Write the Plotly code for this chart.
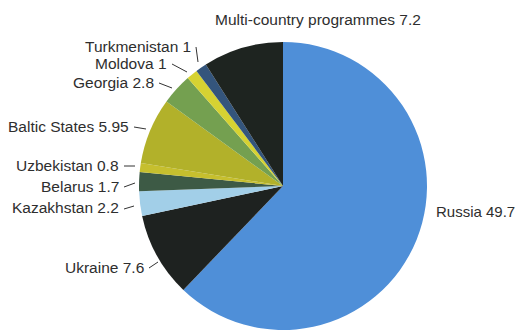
import plotly.graph_objects as go

categories = ["Russia", "Ukraine", "Kazakhstan", "Belarus", "Uzbekistan",
              "Baltic States", "Georgia", "Moldova", "Turkmenistan",
              "Multi-country programmes"]
values = [49.7, 7.6, 2.2, 1.7, 0.8, 5.95, 2.8, 1, 1, 7.2]
value_labels = ["49.7", "7.6", "2.2", "1.7", "0.8", "5.95", "2.8", "1", "1", "7.2"]
colors = ["#4f8fd8", "#1e2220", "#a2cfe8", "#3d5a45", "#c6bf2e",
          "#b2b12a", "#74a050", "#d6d232", "#34557c", "#1e2420"]

W, H = 519, 330


def px(x):
    return x / W


def py(y):
    return 1 - y / H


fig = go.Figure(go.Pie(
    labels=categories,
    values=values,
    sort=False,
    direction="clockwise",
    rotation=0,
    marker=dict(colors=colors, line=dict(width=0)),
    textinfo="none",
    hoverinfo="label+value",
    domain=dict(x=[px(138), px(428)], y=[0.0, py(42)]),
    showlegend=False,
))

# label placement (pixel coords): text anchor point, leader tip
label_pos = {
    "Russia": dict(tx=434, ty=211, xanchor="left", tip=None, size=15),
    "Ukraine": dict(tx=146, ty=267, xanchor="right", tip=(158, 262)),
    "Kazakhstan": dict(tx=121, ty=208, xanchor="right", tip=(134, 206)),
    "Belarus": dict(tx=121, ty=186, xanchor="right", tip=(135, 183)),
    "Uzbekistan": dict(tx=121, ty=165, xanchor="right", tip=(135, 166)),
    "Baltic States": dict(tx=131, ty=126, xanchor="right", tip=(146, 129)),
    "Georgia": dict(tx=156, ty=82, xanchor="right", tip=(172, 88)),
    "Moldova": dict(tx=169, ty=63, xanchor="right", tip=(187, 72)),
    "Turkmenistan": dict(tx=193, ty=46, xanchor="right", tip=(198, 62)),
    "Multi-country programmes": dict(tx=318, ty=20, xanchor="center", tip=None),
}

for cat, val in zip(categories, value_labels):
    p = label_pos[cat]
    text = f"{cat} {val}"
    font = dict(family="Liberation Sans, Arial, sans-serif",
                size=p.get("size", 15.5), color="#2e2e2e")
    fig.add_annotation(
        x=px(p["tx"]), y=py(p["ty"]), xref="paper", yref="paper",
        text=text, showarrow=False, xanchor=p["xanchor"], yanchor="middle",
        font=font,
    )
    if p["tip"] is not None:
        sx = p["tx"] + 3
        sy = p["ty"] + 1
        fig.add_shape(type="line", xref="paper", yref="paper",
                      x0=px(sx), y0=py(sy),
                      x1=px(p["tip"][0]), y1=py(p["tip"][1]),
                      line=dict(color="#333333", width=1))

fig.update_layout(
    width=W, height=H,
    margin=dict(l=0, r=0, t=0, b=0),
    paper_bgcolor="white",
    plot_bgcolor="white",
)

fig.write_html(
    "out.html",
    config={"displayModeBar": False},
    post_script="document.body.style.margin='0';document.body.style.overflow='hidden';",
)
